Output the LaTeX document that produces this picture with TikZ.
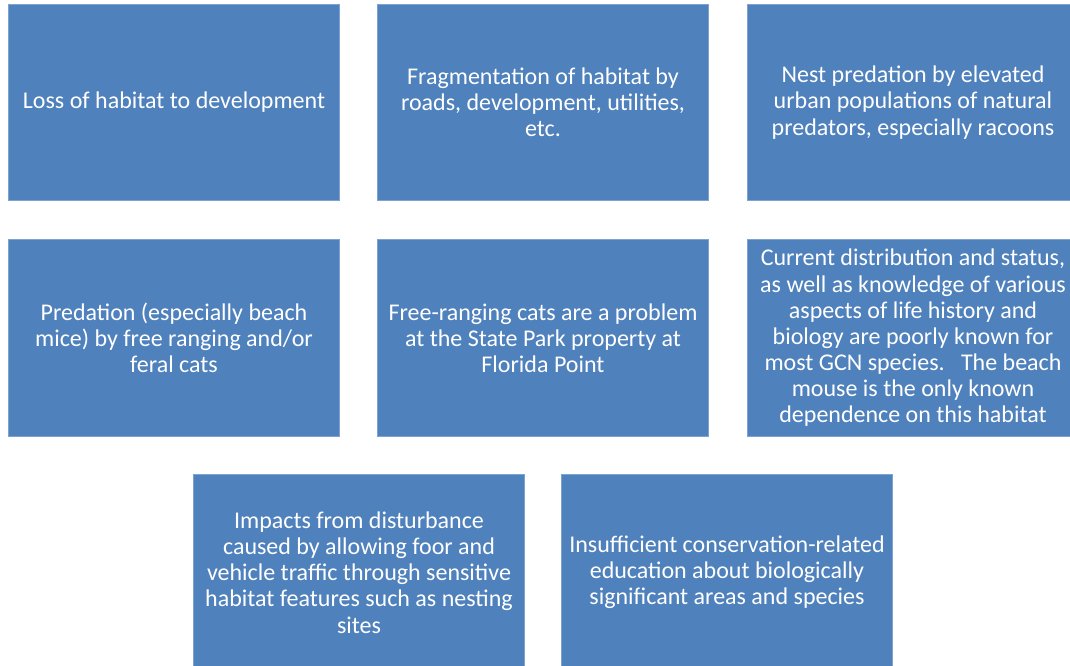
\documentclass[tikz,border=0pt]{standalone}
\usepackage{fontspec}
\setmainfont{Carlito}
\definecolor{boxblue}{HTML}{4F81BD}
\definecolor{boxedge}{HTML}{7FA3D0}
\tikzset{
  issue/.style={rectangle, fill=boxblue, draw=boxedge, line width=0.6pt,
    minimum width=248pt, minimum height=147.5pt, inner sep=0pt,
    align=center, text=white,
    font=\fontsize{18}{19.6}\selectfont}
}
\begin{document}
\begin{tikzpicture}[x=0.75pt,y=-0.75pt]
  \useasboundingbox (0,0) rectangle (1070,666);
  \fill[white] (0,0) rectangle (1070,666);

  \node[issue] (loss)  at (174,102.5) {Loss of habitat to development};
  \node[issue] (frag)  at (543,102.5) {Fragmentation of habitat by\\roads, development, utilities,\\etc.};
  \node[issue] (nest)  at (913,102.5) {Nest predation by elevated\\urban populations of natural\\predators, especially racoons};

  \node[issue] (pred)  at (174,338) {Predation (especially beach\\mice) by free ranging and/or\\feral cats};
  \node[issue] (cats)  at (543,338) {Free-ranging cats are a problem\\at the State Park property at\\Florida Point};
  \node[issue] (known) at (913,338) {Current distribution and status,\\as well as knowledge of various\\aspects of life history and\\biology are poorly known for\\most GCN species.\ \ \ The beach\\mouse is the only known\\dependence on this habitat};

  \node[issue] (dist)  at (359,572.5) {Impacts from disturbance\\caused by allowing foor and\\vehicle traffic through sensitive\\habitat features such as nesting\\sites};
  \node[issue] (educ)  at (727,572.5) {Insufficient conservation-related\\education about biologically\\significant areas and species};
\end{tikzpicture}
\end{document}
